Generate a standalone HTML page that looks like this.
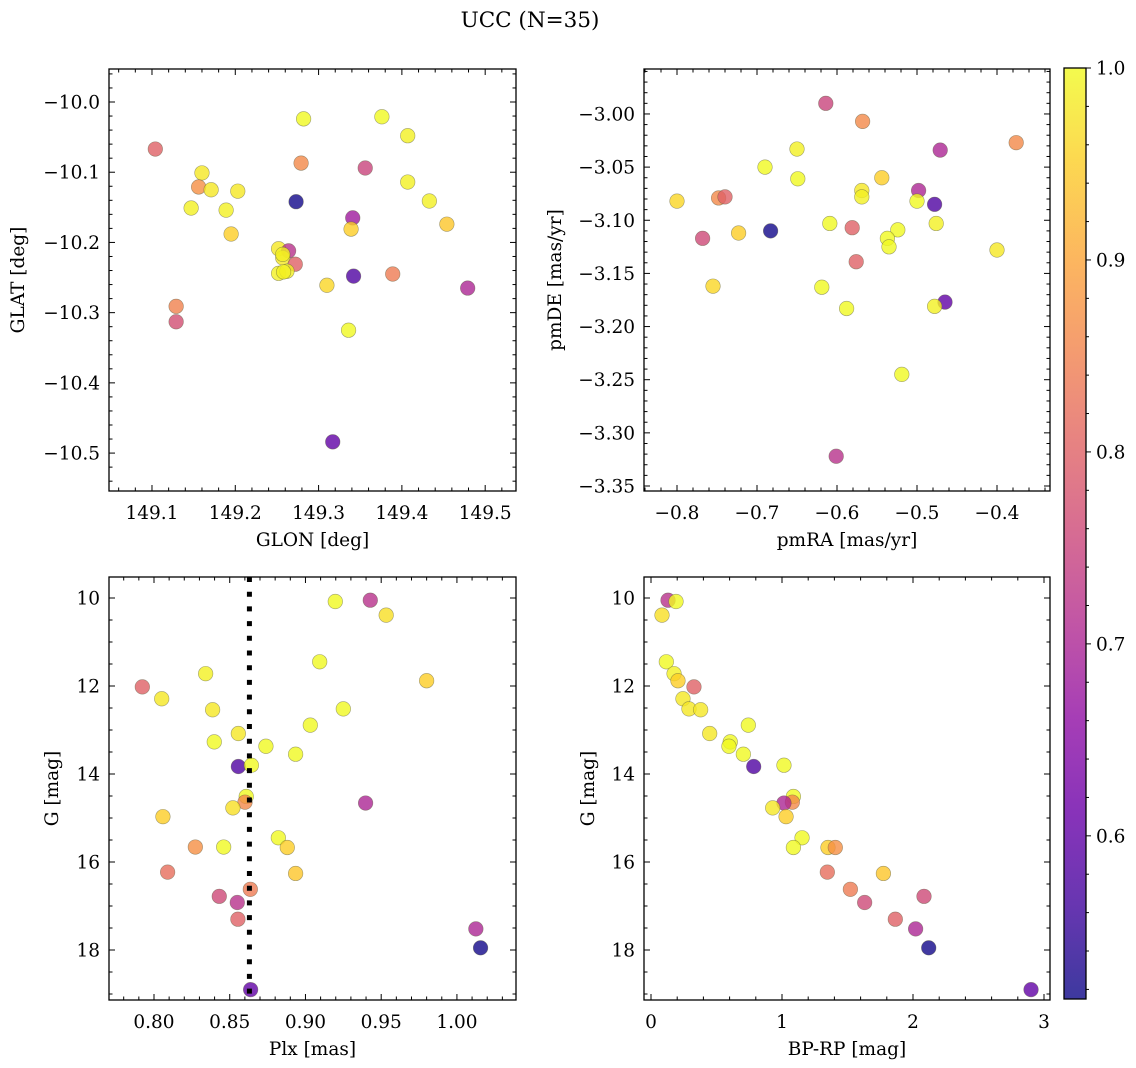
<!DOCTYPE html>
<html><head><meta charset="utf-8">
<style>
html,body{margin:0;padding:0;background:#fff;}
svg{display:block;font-family:"DejaVu Serif","Liberation Serif",serif;}
</style></head>
<body>
<svg id="fig" width="1136" height="1068" viewBox="0 0 1136 1068" xmlns="http://www.w3.org/2000/svg">
<text x="530" y="27" font-size="21.5" text-anchor="middle">UCC (N=35)</text>
</svg>
<script>
// ---- Panel 1: GLON / GLAT ----
const glon = [149.104,149.160,149.156,149.171,149.203,149.147,149.189,149.195,149.129,149.129,149.282,149.279,149.273,149.252,149.264,149.257,149.272,149.252,149.262,149.310,149.341,149.339,149.342,149.336,149.317,149.356,149.376,149.407,149.407,149.389,149.433,149.454,149.479,149.258,149.257];
const glat = [-10.067,-10.101,-10.121,-10.125,-10.127,-10.151,-10.154,-10.188,-10.291,-10.313,-10.024,-10.087,-10.142,-10.209,-10.212,-10.222,-10.231,-10.244,-10.241,-10.261,-10.165,-10.181,-10.248,-10.325,-10.484,-10.094,-10.021,-10.048,-10.114,-10.245,-10.141,-10.174,-10.265,-10.242,-10.217];
const prob1 = [0.80,0.98,0.87,0.98,0.98,0.99,0.99,0.95,0.85,0.77,1.0,0.86,0.52,0.98,0.72,0.98,0.80,0.99,0.99,0.96,0.68,0.95,0.58,1.0,0.60,0.75,1.0,0.99,0.99,0.84,0.99,0.94,0.70,0.99,0.99];
// ---- Panel 2: pmRA / pmDE ----
const pmra = [-0.614,-0.568,-0.376,-0.471,-0.650,-0.690,-0.649,-0.544,-0.569,-0.569,-0.498,-0.500,-0.478,-0.800,-0.748,-0.740,-0.609,-0.581,-0.524,-0.537,-0.535,-0.768,-0.723,-0.683,-0.400,-0.576,-0.755,-0.619,-0.588,-0.465,-0.478,-0.519,-0.601,-0.476];
const pmde = [-2.990,-3.007,-3.027,-3.034,-3.033,-3.050,-3.061,-3.060,-3.072,-3.078,-3.072,-3.082,-3.085,-3.082,-3.079,-3.078,-3.103,-3.107,-3.109,-3.117,-3.125,-3.117,-3.112,-3.110,-3.128,-3.139,-3.162,-3.163,-3.183,-3.177,-3.181,-3.245,-3.322,-3.103];
const prob2 = [0.75,0.86,0.86,0.70,0.99,1.0,1.0,0.95,0.98,0.99,0.70,1.0,0.58,0.96,0.86,0.80,1.0,0.80,1.0,1.0,1.0,0.76,0.95,0.52,0.98,0.80,0.96,1.0,1.0,0.60,0.99,1.0,0.72,0.99];
// ---- Panel 3: Plx / G ----
const plx = [0.9197,0.9428,0.9533,0.9094,0.8341,0.9800,0.7923,0.8051,0.8387,0.9250,0.9032,0.8557,0.8398,0.8739,0.8935,0.8557,0.8643,0.8609,0.8601,0.8521,0.9397,0.8059,0.8273,0.8460,0.8821,0.8880,0.8090,0.8935,0.8636,0.8431,0.8550,0.8554,1.0125,1.0156,0.8638];
const gmag3 = [10.08,10.05,10.39,11.45,11.72,11.88,12.02,12.29,12.54,12.52,12.89,13.08,13.27,13.37,13.55,13.83,13.80,14.51,14.64,14.77,14.66,14.97,15.66,15.66,15.45,15.67,16.23,16.26,16.62,16.78,16.92,17.30,17.52,17.95,18.90];
const prob3 = [1.0,0.72,0.97,1.0,0.99,0.95,0.80,0.98,0.98,1.0,1.0,0.98,1.0,1.0,1.0,0.58,1.0,1.0,0.86,0.97,0.70,0.95,0.87,1.0,1.0,0.95,0.82,0.94,0.84,0.76,0.72,0.80,0.70,0.52,0.60];
const plxLine = [0.863];
// ---- Panel 4: BP-RP / G ----
const bprp = [0.130,0.191,0.084,0.117,0.176,0.206,0.328,0.244,0.290,0.379,0.743,0.448,0.605,0.595,0.705,0.784,1.015,1.087,1.079,1.015,0.929,1.031,1.153,1.087,1.351,1.407,1.346,1.774,1.522,1.631,2.084,1.865,2.020,2.120,2.901];
const gmag4 = [10.05,10.08,10.39,11.45,11.72,11.88,12.02,12.29,12.52,12.54,12.89,13.08,13.27,13.37,13.55,13.83,13.80,14.51,14.64,14.66,14.77,14.97,15.45,15.67,15.67,15.67,16.23,16.26,16.62,16.92,16.78,17.30,17.52,17.95,18.90];
const prob4 = [0.72,1.0,0.97,1.0,0.99,0.95,0.80,0.98,0.98,0.98,1.0,0.98,1.0,1.0,1.0,0.58,1.0,1.0,0.86,0.70,0.98,0.95,1.0,1.0,0.95,0.87,0.82,0.94,0.84,0.76,0.76,0.80,0.70,0.52,0.60];
// ---- tick labels ----
const ticks1x = ["149.1","149.2","149.3","149.4","149.5"];
const ticks1y = ["−10.0","−10.1","−10.2","−10.3","−10.4","−10.5"];
const ticks2x = ["−0.8","−0.7","−0.6","−0.5","−0.4"];
const ticks2y = ["−3.00","−3.05","−3.10","−3.15","−3.20","−3.25","−3.30","−3.35"];
const ticks3x = ["0.80","0.85","0.90","0.95","1.00"];
const ticksGy = ["10","12","14","16","18"];
const ticks4x = ["0","1","2","3"];
const cbTicks = ["0.6","0.7","0.8","0.9","1.0"];
const vmin = 0.515, vmax = 1.0;

const FS = 18.5;
const NS = "http://www.w3.org/2000/svg";
const svg = document.getElementById('fig');
function el(tag, attrs, parent){
  const e = document.createElementNS(NS, tag);
  for (const k in attrs) e.setAttribute(k, attrs[k]);
  (parent||svg).appendChild(e);
  return e;
}
const stops = ["#0d0887","#41049d","#6a00a8","#8f0da4","#b12a90","#cc4778","#e16462","#f2844b","#fca636","#fcce25","#f0f921"];
function hex(h){return [parseInt(h.substr(1,2),16),parseInt(h.substr(3,2),16),parseInt(h.substr(5,2),16)];}
function plasma(t){
  t = Math.max(0, Math.min(1, t));
  const f = t*10, i = Math.min(9, Math.floor(f)), u = f - i;
  const a = hex(stops[i]), b = hex(stops[i+1]);
  return 'rgb(' + a.map((v,k)=>Math.round(v+(b[k]-v)*u)).join(',') + ')';
}
function num(s){return parseFloat(s.replace('−','-'));}

function panel(cfg){
  const g = el('g', {});
  
  
  const sx = v => cfg.L + (v - cfg.x0) / (cfg.x1 - cfg.x0) * (cfg.R - cfg.L);
  const sy = v => cfg.B - (v - cfg.y0) / (cfg.y1 - cfg.y0) * (cfg.B - cfg.T);
  const pts = el('g', {}, g);
  
  
  for (let i = 0; i < cfg.xs.length; i++){
    const c = el('circle', {cx: sx(cfg.xs[i]), cy: sy(cfg.ys[i]), r: 7.3, fill: plasma((cfg.ps[i]-vmin)/(vmax-vmin)), 'fill-opacity': 0.8, stroke: 'rgba(90,90,60,0.55)', 'stroke-width': 0.6}, pts);
    
    
  }
  if (cfg.vline){
    for (const v of cfg.vline){
      const ln = el('line', {x1: sx(v), x2: sx(v), y1: cfg.T, y2: cfg.B, stroke: '#000', 'stroke-width': 5, 'stroke-dasharray': '5 9.7'}, g);
      
      
    }
  }
  const fr = el('rect', {x: cfg.L, y: cfg.T, width: cfg.R - cfg.L, height: cfg.B - cfg.T, fill: 'none', stroke: '#000', 'stroke-width': 1.3}, g);
  
  
  const xmaj = cfg.xt.map(num);
  const step = xmaj[1] - xmaj[0];
  const ms = step / cfg.xminor;
  for (let k = -cfg.xminor; k <= (xmaj.length) * cfg.xminor; k++){
    const v = xmaj[0] + k * ms;
    const x = sx(v);
    if (x < cfg.L - 0.1 || x > cfg.R + 0.1) continue;
    const len = (k % cfg.xminor === 0) ? 6 : 3.5;
    el('line', {x1: x, x2: x, y1: cfg.B, y2: cfg.B - len, stroke: '#000', 'stroke-width': 1}, g);
    el('line', {x1: x, x2: x, y1: cfg.T, y2: cfg.T + len, stroke: '#000', 'stroke-width': 1}, g);
  }
  cfg.xt.forEach((s) => {
    const t = el('text', {x: sx(num(s)), y: cfg.B + 28, 'font-size': FS, 'text-anchor': 'middle'}, g);
    t.textContent = s;
    
    
  });
  const ymaj = cfg.yt.map(num);
  const ystep = ymaj[1] - ymaj[0];
  const yms = ystep / cfg.yminor;
  for (let k = -cfg.yminor; k <= (ymaj.length) * cfg.yminor; k++){
    const v = ymaj[0] + k * yms;
    const y = sy(v);
    if (y < cfg.T - 0.1 || y > cfg.B + 0.1) continue;
    const len = (k % cfg.yminor === 0) ? 6 : 3.5;
    el('line', {x1: cfg.L, x2: cfg.L + len, y1: y, y2: y, stroke: '#000', 'stroke-width': 1}, g);
    el('line', {x1: cfg.R, x2: cfg.R - len, y1: y, y2: y, stroke: '#000', 'stroke-width': 1}, g);
  }
  cfg.yt.forEach((s) => {
    const t = el('text', {x: cfg.L - 9, y: sy(num(s)) + 6.5, 'font-size': FS, 'text-anchor': 'end'}, g);
    t.textContent = s;
    
    
  });
  const xl = el('text', {x: (cfg.L + cfg.R)/2, y: cfg.B + 55, 'font-size': FS, 'text-anchor': 'middle'}, g);
  xl.textContent = cfg.xlabel;
  
  
  const yx = cfg.ylx, yy = (cfg.T + cfg.B)/2;
  const yl = el('text', {x: yx, y: yy, 'font-size': FS, 'text-anchor': 'middle', transform: 'rotate(-90 ' + yx + ' ' + yy + ')'}, g);
  yl.textContent = cfg.ylabel;
  
  
}

panel({name:'panel-glon-glat', L:109, R:516, T:69, B:491, x0:149.0484, x1:149.537, y0:-10.554, y1:-9.953,
  xs:glon, ys:glat, ps:prob1, xt:ticks1x, yt:ticks1y, xminor:5, yminor:5, xlabel:'GLON [deg]', ylabel:'GLAT [deg]', ylx:24});
panel({name:'panel-pmra-pmde', L:644, R:1050, T:69, B:491, x0:-0.84125, x1:-0.33375, y0:-3.3547, y1:-2.9577,
  xs:pmra, ys:pmde, ps:prob2, xt:ticks2x, yt:ticks2y, xminor:5, yminor:5, xlabel:'pmRA [mas/yr]', ylabel:'pmDE [mas/yr]', ylx:561});
panel({name:'panel-plx-g', L:109, R:516, T:577, B:1000, x0:0.7703, x1:1.0390, y0:19.136, y1:9.523,
  xs:plx, ys:gmag3, ps:prob3, xt:ticks3x, yt:ticksGy, xminor:5, yminor:4, xlabel:'Plx [mas]', ylabel:'G [mag]', ylx:58, vline:plxLine});
panel({name:'panel-bprp-g', L:644, R:1050, T:577, B:1000, x0:-0.0534, x1:3.0458, y0:19.136, y1:9.523,
  xs:bprp, ys:gmag4, ps:prob4, xt:ticks4x, yt:ticksGy, xminor:5, yminor:4, xlabel:'BP-RP [mag]', ylabel:'G [mag]', ylx:594});

// ---- colorbar ----
const cb = el('g', {});


const defs = el('defs', {}, cb);
const lg = el('linearGradient', {id: 'cbgrad', x1: 0, y1: 1, x2: 0, y2: 0}, defs);
for (let i = 0; i <= 20; i++){
  el('stop', {offset: i/20, 'stop-color': plasma(i/20)}, lg);
}
const cbL = 1064, cbR = 1086, cbT = 68, cbB = 999;
el('rect', {x: cbL, y: cbT, width: cbR - cbL, height: cbB - cbT, fill: 'url(#cbgrad)', 'fill-opacity': 0.8}, cb);
el('rect', {x: cbL, y: cbT, width: cbR - cbL, height: cbB - cbT, fill: 'none', stroke: '#000', 'stroke-width': 1.3}, cb);
const cy = v => cbB - (v - vmin) / (vmax - vmin) * (cbB - cbT);
for (let k = 0; k <= 30; k++){
  const v = 0.52 + k * 0.02;
  if (v > vmax + 1e-9) break;
  const major = Math.abs(v*10 - Math.round(v*10)) < 1e-6;
  el('line', {x1: cbR, x2: cbR + (major ? 5 : 3), y1: cy(v), y2: cy(v), stroke: '#000', 'stroke-width': 1}, cb);
}
cbTicks.forEach(s => {
  const t = el('text', {x: cbR + 10, y: cy(num(s)) + 6.5, 'font-size': FS}, cb);
  t.textContent = s;
  
  
});
</script>
</body></html>
